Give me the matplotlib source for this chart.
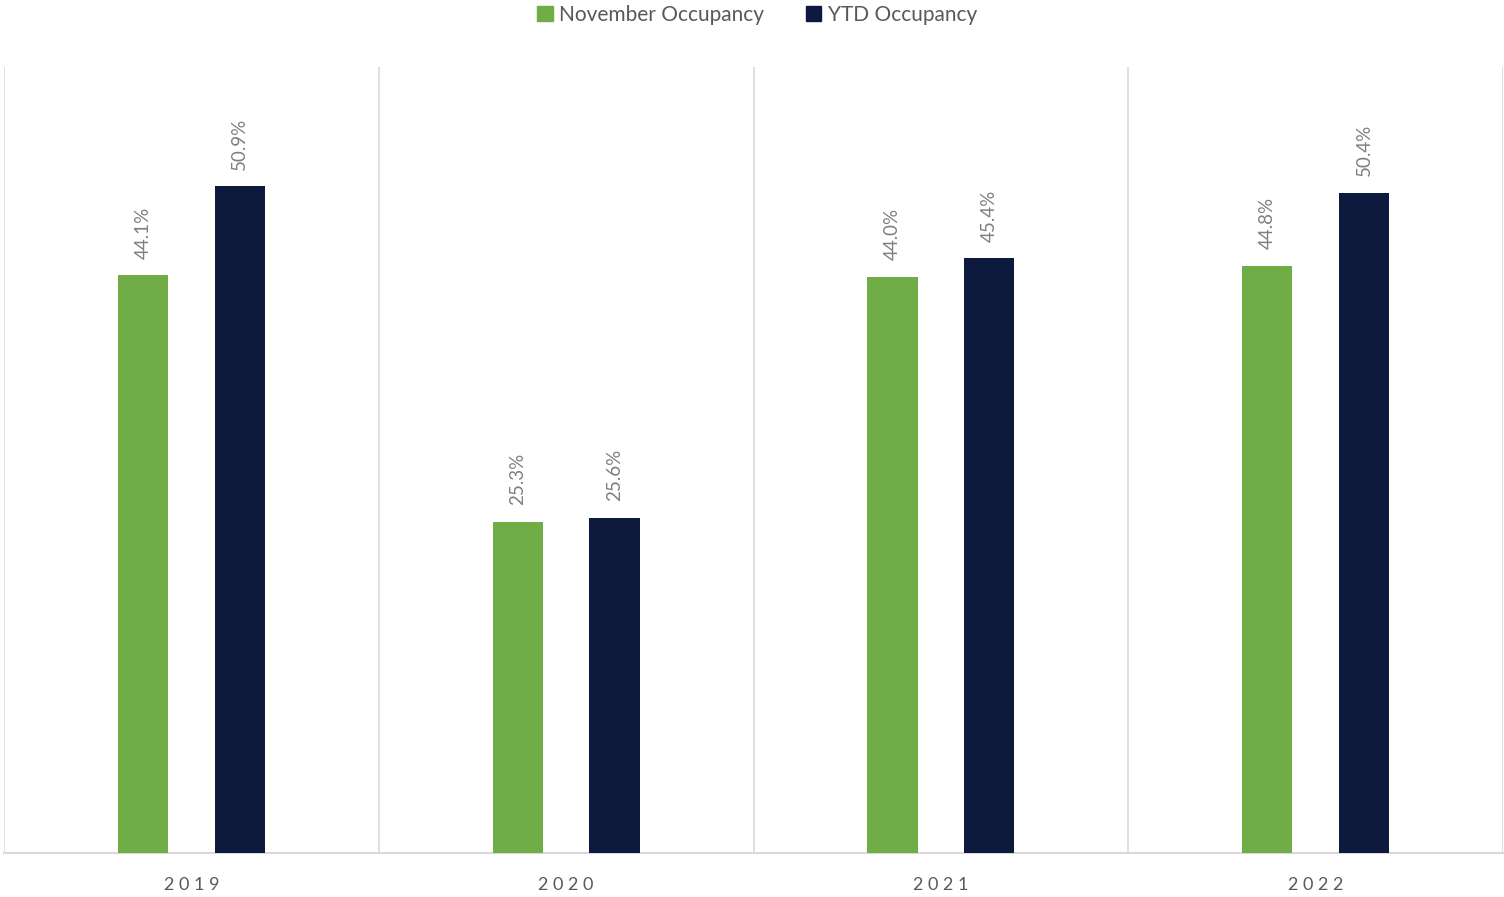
import matplotlib
matplotlib.use("Agg")
import matplotlib.pyplot as plt
from matplotlib.patches import Patch
import numpy as np

years = ["2019", "2020", "2021", "2022"]
november = [44.1, 25.3, 44.0, 44.8]
ytd = [50.9, 25.6, 45.4, 50.4]
series_names = ["November Occupancy", "YTD Occupancy"]

green = "#70ad47"
navy = "#0e1a3d"
label_gray = "#7f7f7f"
text_gray = "#595959"
grid_gray = "#d9d9d9"

plt.rcParams["font.family"] = ["Lato", "DejaVu Sans"]

fig = plt.figure(figsize=(15.04, 8.97), dpi=100)
ax = fig.add_axes([4 / 1504, 44 / 897, 1499 / 1504, 786 / 897])

x = np.arange(len(years))
offset = 0.129
width = 0.134

b1 = ax.bar(x - offset, november, width, color=green, zorder=3)
b2 = ax.bar(x + offset, ytd, width, color=navy, zorder=3)

for bars, vals in ((b1, november), (b2, ytd)):
    for rect, v in zip(bars, vals):
        ax.annotate(f"{v:.1f}%", (rect.get_x() + rect.get_width() / 2, v),
                    xytext=(0, 12), textcoords="offset points",
                    rotation=90, ha="center", va="bottom",
                    fontsize=13.5, color=label_gray)

ax.set_xlim(-0.5, len(years) - 0.5)
ax.set_ylim(0, 60)

# category separators
for b in np.arange(-0.5, len(years), 1.0):
    ax.axvline(b, color=grid_gray, lw=1.2, zorder=1)

ax.set_yticks([])
ax.set_xticks(x)
ax.set_xticklabels([" ".join(y) for y in years], fontsize=13, color=text_gray)
ax.tick_params(axis="x", length=0, pad=17)
for side in ("top", "left", "right"):
    ax.spines[side].set_visible(False)
ax.spines["bottom"].set_color(grid_gray)
ax.spines["bottom"].set_linewidth(1.5)

handles = [Patch(color=green), Patch(color=navy)]
fig.legend(handles, series_names, loc="center", bbox_to_anchor=(757 / 1504, 1 - 15 / 897),
           ncol=2, frameon=False, fontsize=15, labelcolor=text_gray,
           handlelength=0.75, handleheight=0.75, handletextpad=0.3, columnspacing=2.0)

fig.savefig("out.png", dpi=100)
